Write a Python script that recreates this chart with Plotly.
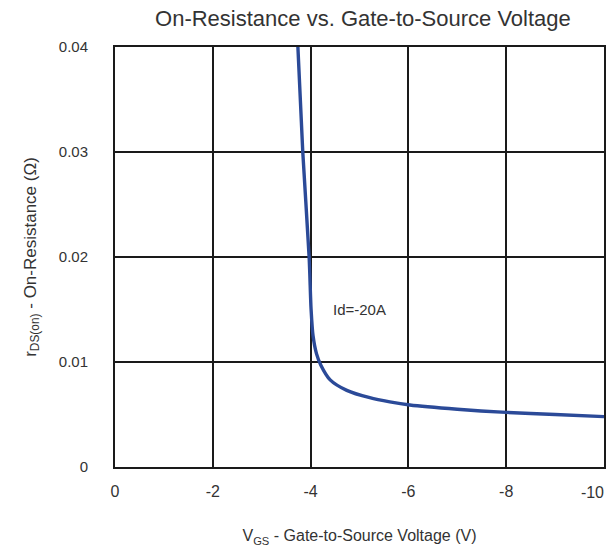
import plotly.graph_objects as go

# Gate-to-source voltage (V) and on-resistance (ohm) for Id = -20 A
vgs = [-3.74, -3.84, -3.97, -4.01, -4.05, -4.12, -4.21, -4.40, -4.74, -5.21, -5.62, -6.03,
       -7.0, -8.0, -9.0, -10.0]
rds_on = [0.040, 0.030, 0.020, 0.015, 0.0125, 0.0108, 0.0097, 0.0083, 0.0073, 0.0066, 0.0062, 0.0059,
          0.0055, 0.0052, 0.0050, 0.0048]

x_ticks = [0, -2, -4, -6, -8]
x_tick_text = ["0", "-2", "-4", "-6", "-8"]
x_end_tick = [-10]
x_end_text = ["-10"]
y_ticks = [0, 0.01, 0.02, 0.03, 0.04]
y_tick_text = ["0", "0.01", "0.02", "0.03", "0.04"]

font_family = "Liberation Sans, Arial, sans-serif"
text_color = "#333333"

fig = go.Figure()
fig.add_trace(go.Scatter(
    x=vgs, y=rds_on, mode="lines",
    line=dict(color="#2B4A98", width=3.4, shape="spline", smoothing=0.8),
    showlegend=False, hoverinfo="skip",
))
# invisible copy bound to the second bottom axis so that axis gets drawn
fig.add_trace(go.Scatter(
    x=vgs, y=rds_on, xaxis="x2", mode="lines", opacity=0,
    line=dict(width=0), showlegend=False, hoverinfo="skip",
))

fig.add_annotation(
    x=-5.0, y=0.015, text="Id=-20A", showarrow=False,
    font=dict(family=font_family, size=15, color=text_color),
)

fig.update_layout(
    width=611, height=551,
    margin=dict(l=115, r=7, t=47, b=84),
    paper_bgcolor="white", plot_bgcolor="white",
    title=dict(
        text="On-Resistance vs. Gate-to-Source Voltage",
        x=0.594, xanchor="center", y=0.967, yanchor="middle",
        font=dict(family=font_family, size=22, color=text_color),
    ),
    font=dict(family=font_family, size=15, color=text_color),
    # second bottom axis carrying only the right-end label, set flush left of its gridline
    xaxis2=dict(
        overlaying="x", side="bottom", anchor="y",
        range=[0, -10], tickvals=x_end_tick, ticktext=x_end_text,
        ticklabelposition="outside left", ticks="", ticklabelstandoff=14,
        showgrid=False, showline=False, zeroline=False, automargin=False,
        tickfont=dict(size=16, color=text_color),
    ),
)

fig.layout.xaxis.update(
    range=[0, -10], tickvals=x_ticks, ticktext=x_tick_text,
    showgrid=True, gridcolor="#1a1a1a", gridwidth=2,
    showline=True, linecolor="#1a1a1a", linewidth=2, mirror=True,
    zeroline=False, ticks="", ticklabelstandoff=9,
    automargin=False,
    tickfont=dict(size=16, color=text_color),
    title=dict(text="V<sub>GS</sub> - Gate-to-Source Voltage (V)",
               font=dict(size=16, color=text_color), standoff=31),
)
fig.layout.yaxis.update(
    range=[0, 0.04], tickvals=y_ticks, ticktext=y_tick_text,
    showgrid=True, gridcolor="#1a1a1a", gridwidth=2,
    showline=True, linecolor="#1a1a1a", linewidth=2, mirror=True,
    zeroline=False, ticks="", ticklabelstandoff=22,
    automargin=False,
    tickfont=dict(size=15, color=text_color),
    title=dict(text="r<sub>DS(on)</sub> - On-Resistance (Ω)",
               font=dict(size=17, color=text_color), standoff=18),
)

fig.write_html("out.html")
